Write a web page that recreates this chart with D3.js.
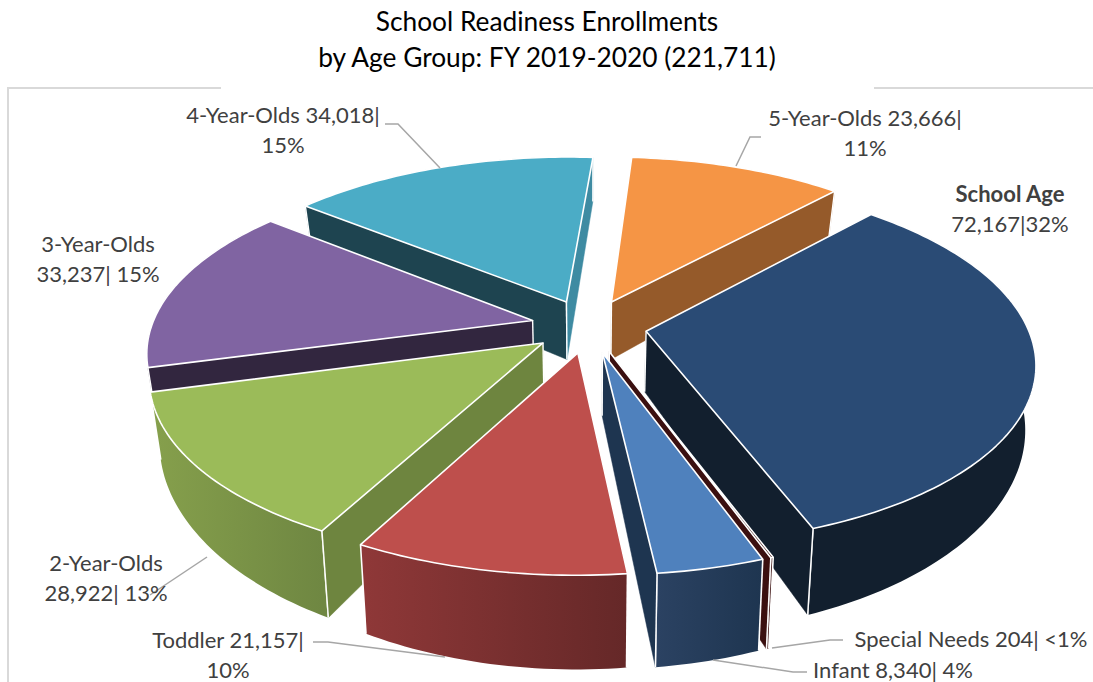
<!DOCTYPE html>
<html><head><meta charset="utf-8">
<script src="https://cdn.jsdelivr.net/npm/d3@7/dist/d3.min.js"></script>
<style>html,body{margin:0;background:#fff}svg{display:block}text{font-family:Lato,"Open Sans",sans-serif}</style>
</head><body><svg id="c" width="1093" height="682"></svg>
<script>
const categories=["School Age","Special Needs","Infant","Toddler","2-Year-Olds","3-Year-Olds","4-Year-Olds","5-Year-Olds"];
const values=[72167,204,8340,21157,28922,33237,34018,23666];
const titleLines=["School Readiness Enrollments","by Age Group: FY 2019-2020 (221,711)"];
const topColors=["#2A4B75","#3B1010","#4F81BD","#BE4F4C","#9BBB59","#8064A2","#4BACC6","#F59545"];
const wallStart=["#0F1E2E","#3B1010","#1E3550","#6B2A28","#6E853F","#32263F","#1E4450","#955A2A"];
const wallEnd=["#121F2E","#3B1010","#1E3550","#6B2A28","#6E853F","#32263F","#3E8BA2","#955A2A"];
const rimFrom=["#121F2E","#3B1010","#2B4262","#8F3838","#86A04C","#4D3C62","#2D6778","#955A2A"];
const rimTo=["#121F2E","#3B1010","#1E3550","#652828","#6F8742","#32263F","#1E4450","#955A2A"];
const labelLines=[[["School Age",true],["72,167|32%",false]],[["Special Needs 204| <1%",false]],[["Infant 8,340| 4%",false]],[["Toddler 21,157|",false],["10%",false]],[["2-Year-Olds",false],["28,922| 13%",false]],[["3-Year-Olds",false],["33,237| 15%",false]],[["4-Year-Olds 34,018|",false],["15%",false]],[["5-Year-Olds 23,666|",false],["11%",false]]];
const labelCenter=[[1010,195],[971,640],[893,671],[228,641],[106,564],[98,245],[283,116],[865,119]];
const leaders=[null,[[843,640],[830,640],[772,648]],[[807,672],[793,672],[713,660]],[[313,642],[328,642],[445,657]],[[207,557],[150,595]],null,[[385,124],[398,124],[440,168]],[[761,137],[750,137],[736,166]]];

const cx=589,cy=326,R=381,A=176,k=.164,e=.152,H=60,kh=.316,conv=.976,startDeg=42.6;
const svg=d3.select("#c"), defs=svg.append("defs");
const lineGray="#D9D9D9";
[[[8,682],[8,88],[221,88]],[[874,88],[1093,88]]].forEach(p=>svg.append("path").attr("d",d3.line()(p)).attr("fill","none").attr("stroke",lineGray).attr("stroke-width",2));
svg.selectAll("text.t").data(titleLines).join("text").attr("class","t").attr("x",547).attr("y",(d,i)=>31+i*36).attr("text-anchor","middle").attr("font-size",26.3).attr("fill","#000").text(d=>d);

const arcs=d3.pie().sort(null).startAngle(startDeg*Math.PI/180).endAngle((startDeg+360)*Math.PI/180)(values);
const proj=(X,Y,down)=>{const w=1/(1+k*Y),h=down?H/(1+kh*Y):0;
  let sx=cx+X*R*w, sy=cy-Y*A*w;
  if(down){sx=cx+(sx-cx)*conv;sy+=h}
  return [sx,sy]};
const area=p=>d3.polygonArea(p);
const slices=arcs.map((a,i)=>{const m=(a.startAngle+a.endAngle)/2;
  const ox=e*Math.sin(m),oy=e*Math.cos(m);
  const n=Math.max(2,Math.ceil((a.endAngle-a.startAngle)/.02));
  const ang=d3.range(n+1).map(j=>a.startAngle+(a.endAngle-a.startAngle)*j/n);
  const rim=ang.map(t=>[ox+Math.sin(t),oy+Math.cos(t)]);
  return {i,ox,oy,rim};
}).sort((s,t)=>t.oy-s.oy);
const line=d3.line().curve(d3.curveLinear);
const poly=p=>line(p)+"Z";
slices.forEach(s=>{
  const g=svg.append("g"),i=s.i;
  const apex=[s.ox,s.oy], first=s.rim[0], last=s.rim[s.rim.length-1];
  const quad=(P,Q)=>[proj(P[0],P[1]),proj(Q[0],Q[1]),proj(Q[0],Q[1],1),proj(P[0],P[1],1)];
  const wa=quad(apex,first), wb=quad(last,apex);
  const gid="rim"+i;
  const xs=s.rim.map(p=>proj(p[0],p[1])[0]);
  const lg=defs.append("linearGradient").attr("id",gid).attr("gradientUnits","userSpaceOnUse").attr("x1",d3.min(xs)).attr("x2",d3.max(xs)).attr("y1",0).attr("y2",0);
  lg.append("stop").attr("offset",0).attr("stop-color",rimFrom[i]);
  lg.append("stop").attr("offset",1).attr("stop-color",rimTo[i]);
  const rimPoly=s.rim.map(p=>proj(p[0],p[1])).concat(s.rim.slice().reverse().map(p=>proj(p[0],p[1],1)));
  g.append("path").attr("d",poly(rimPoly)).attr("fill",`url(#${gid})`);
  [first,last].forEach(p=>{g.append("path").attr("d",line([proj(p[0],p[1]),proj(p[0],p[1],1)])).attr("stroke","#fff").attr("stroke-width",1.6).attr("fill","none")});
  [[wa,wallStart[i]],[wb,wallEnd[i]]].forEach(([q,c])=>{
    if(area(q)<0) return;
    g.append("path").attr("d",poly(q)).attr("fill",c).attr("stroke",c).attr("stroke-width",.5);
    g.append("path").attr("d",line([q[0],q[3]])).attr("stroke","#fff").attr("stroke-width",1.4).attr("fill","none");
    g.append("path").attr("d",line([q[1],q[2]])).attr("stroke","#fff").attr("stroke-width",1.4).attr("fill","none");
  });
  const top=[proj(apex[0],apex[1])].concat(s.rim.map(p=>proj(p[0],p[1])));
  g.append("path").attr("d",poly(top)).attr("fill",topColors[i]).attr("stroke","#fff").attr("stroke-width",1.6).attr("stroke-linejoin","round");
});
leaders.forEach(p=>{if(p)svg.append("path").attr("d",line(p)).attr("fill","none").attr("stroke","#A6A6A6").attr("stroke-width",1.5)});
labelLines.forEach((ls,i)=>{ls.forEach((l,j)=>{
  svg.append("text").attr("x",labelCenter[i][0]).attr("y",labelCenter[i][1]+j*30+7).attr("text-anchor","middle").attr("font-size",22).attr("font-weight",l[1]?700:400).attr("fill","#404040").text(l[0]);
})});
</script></body></html>
